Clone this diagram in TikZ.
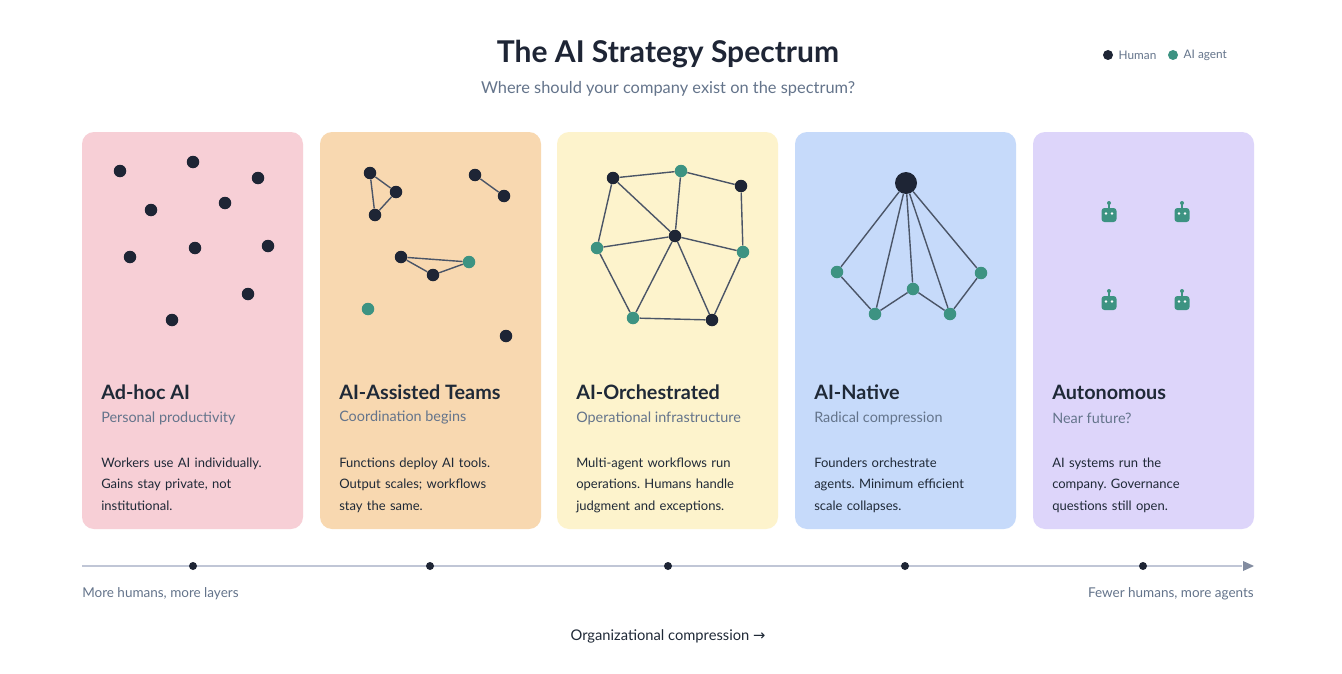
\documentclass[tikz,border=0pt]{standalone}
\usepackage{fontspec}
\setmainfont{Lato}
\newfontfamily\symf{DejaVu Sans}
\usetikzlibrary{arrows.meta}
\definecolor{dark}{HTML}{1E2535}
\definecolor{teal}{HTML}{3D9382}
\definecolor{edge}{HTML}{4B5567}
\definecolor{grey}{HTML}{64748B}
\definecolor{txt}{HTML}{1F2937}
\definecolor{cpink}{HTML}{F7CFD6}
\definecolor{corange}{HTML}{F8D8B0}
\definecolor{cyellow}{HTML}{FDF3CC}
\definecolor{cblue}{HTML}{C6DAFA}
\definecolor{cpurple}{HTML}{DDD5FA}
\definecolor{tline}{HTML}{C0C6D6}
\newcommand{\px}[1]{\fontsize{\fpeval{#1*0.75}pt}{\fpeval{#1*0.9}pt}\selectfont}
\frenchspacing
\begin{document}
\frenchspacing
\begin{tikzpicture}[x=0.75pt,y=-0.75pt,
  h/.style={circle,fill=dark,inner sep=0,minimum size=12.5*0.75pt},
  a/.style={circle,fill=teal,inner sep=0,minimum size=12.5*0.75pt},
  e/.style={draw=edge,line width=1.4*0.75pt},
  card/.style={rounded corners=9pt},
  ttl/.style={anchor=west,inner sep=0,font=\px{19.8}\bfseries,text=txt},
  sub/.style={anchor=west,inner sep=0,font=\px{14.4},text=grey},
  body/.style={anchor=north west,inner sep=0,font=\px{13}\frenchspacing,text=txt,align=left,text width=200*0.75pt},
  tdot/.style={circle,fill=dark,inner sep=0,minimum size=8*0.75pt}]
\useasboundingbox (0,0) rectangle (1342,674);
\fill[white] (0,0) rectangle (1342,674);
\node[font=\px{30}\bfseries,text=dark] (title) at (668,54) {The AI Strategy Spectrum};
\node[font=\px{16.4},text=grey] (subt) at (668,89) {Where should your company exist on the spectrum?};
\node[h,minimum size=10*0.75pt] (lh) at (1108,55) {};
\node[anchor=west,font=\px{11.8},text=grey] (lht) at (1114,55) {Human};
\node[a,minimum size=10*0.75pt] (la) at (1173,55) {};
\node[anchor=west,font=\px{11.8},text=grey] (lat) at (1179,55) {AI agent};
% cards
\fill[cpink,card] (82,132) rectangle (303,529);
\fill[corange,card] (320,132) rectangle (541,529);
\fill[cyellow,card] (557,132) rectangle (778,529);
\fill[cblue,card] (795,132) rectangle (1016,529);
\fill[cpurple,card] (1033,132) rectangle (1254,529);
% card 1
\foreach \x/\y [count=\i] in {120/171,193/162,258/178,151/210,225/203,130/257,195/248,268/246,248/294,172/320}
  \node[h] (p\i) at (\x,\y) {};
% card 2
\node[h] (q1) at (370,173) {}; \node[h] (q2) at (396,192) {}; \node[h] (q3) at (375,215) {};
\node[h] (q4) at (475,175) {}; \node[h] (q5) at (504,196) {};
\node[h] (q6) at (401,257) {}; \node[h] (q7) at (433,275) {}; \node[a] (q8) at (469,262) {};
\node[a] (q9) at (368,309) {}; \node[h] (q10) at (506,336) {};
\draw[e] (q1)--(q2)--(q3)--(q1) (q4)--(q5) (q6)--(q7)--(q8)--(q6);
% card 3
\node[h] (A) at (613,178) {}; \node[a] (B) at (681,171) {}; \node[h] (C) at (741,186) {};
\node[a] (D) at (597,248) {}; \node[h] (E) at (675,236) {}; \node[a] (F) at (743,252) {};
\node[a] (G) at (633,318) {}; \node[h] (H) at (712,320) {};
\draw[e] (A)--(B) (B)--(C) (A)--(D) (A)--(E) (B)--(E) (C)--(F) (D)--(E) (E)--(F) (D)--(G) (E)--(G) (E)--(H) (G)--(H) (H)--(F);
% card 4
\node[h,minimum size=22*0.75pt] (T) at (906,183) {};
\node[a] (r1) at (837,272) {}; \node[a] (r2) at (875,314) {}; \node[a] (r3) at (913,289) {};
\node[a] (r4) at (950,314) {}; \node[a] (r5) at (981,273) {};
\draw[e] (T)--(r1) (T)--(r2) (T)--(r3) (T)--(r4) (T)--(r5) (r1)--(r2)--(r3)--(r4)--(r5);
% robots
\foreach \x/\y in {1109/215,1182/215,1109/303,1182/303}{
  \fill[teal,rounded corners=2.2pt] (\x-7.5,\y-7) rectangle (\x+7.5,\y+7);
  \draw[teal,line width=1.4*0.75pt] (\x,\y-7) -- (\x,\y-11);
  \fill[teal] (\x,\y-12) circle (2);
  \fill[white] (\x-3,\y-1.5) circle (1.3) (\x+3,\y-1.5) circle (1.3);
}
% texts
\node[ttl] (t1) at (101,392) {Ad-hoc AI};
\node[sub] (s1) at (101,418) {Personal productivity};
\node[body] (b1) at (101,457.5) {Workers use AI individually.\\[4.5pt]Gains stay private, not\\[4.5pt]institutional.};
\node[ttl] (t2) at (339,392) {AI-Assisted Teams};
\node[sub] (s2) at (339,418) {Coordination begins};
\node[body] (b2) at (339,457.5) {Functions deploy AI tools.\\[4.5pt]Output scales; workflows\\[4.5pt]stay the same.};
\node[ttl] (t3) at (576,392) {AI-Orchestrated};
\node[sub] (s3) at (576,418) {Operational infrastructure};
\node[body] (b3) at (576,457.5) {Multi-agent workflows run\\[4.5pt]operations. Humans handle\\[4.5pt]judgment and exceptions.};
\node[ttl] (t4) at (814,392) {AI-Native};
\node[sub] (s4) at (814,418) {Radical compression};
\node[body] (b4) at (814,457.5) {Founders orchestrate\\[4.5pt]agents. Minimum efficient\\[4.5pt]scale collapses.};
\node[ttl] (t5) at (1052,392) {Autonomous};
\node[sub] (s5) at (1052,418) {Near future?};
\node[body] (b5) at (1052,457.5) {AI systems run the\\[4.5pt]company. Governance\\[4.5pt]questions still open.};
% timeline
\coordinate (l0) at (82,566); \coordinate (l1) at (1254,566);
\draw[tline,line width=1.3*0.75pt] (l0) -- (1242,566);
\draw[draw=none,fill={rgb,255:red,130;green,140;blue,160}] (l1) -- ++(-11,-5) -- ++(0,10) -- cycle;
\foreach \x [count=\i] in {193,430,668,905,1143} \node[tdot] (d\i) at (\x,566) {};
\node[anchor=west,inner sep=0,font=\px{13.5},text=grey] (ml) at (82,594) {More humans, more layers};
\node[anchor=east,inner sep=0,font=\px{13.5},text=grey] (mr) at (1254,594) {Fewer humans, more agents};
\node[font=\px{14.7},text=txt] (oc) at (668,636) {Organizational compression {\symf →}};
\end{tikzpicture}
\end{document}
